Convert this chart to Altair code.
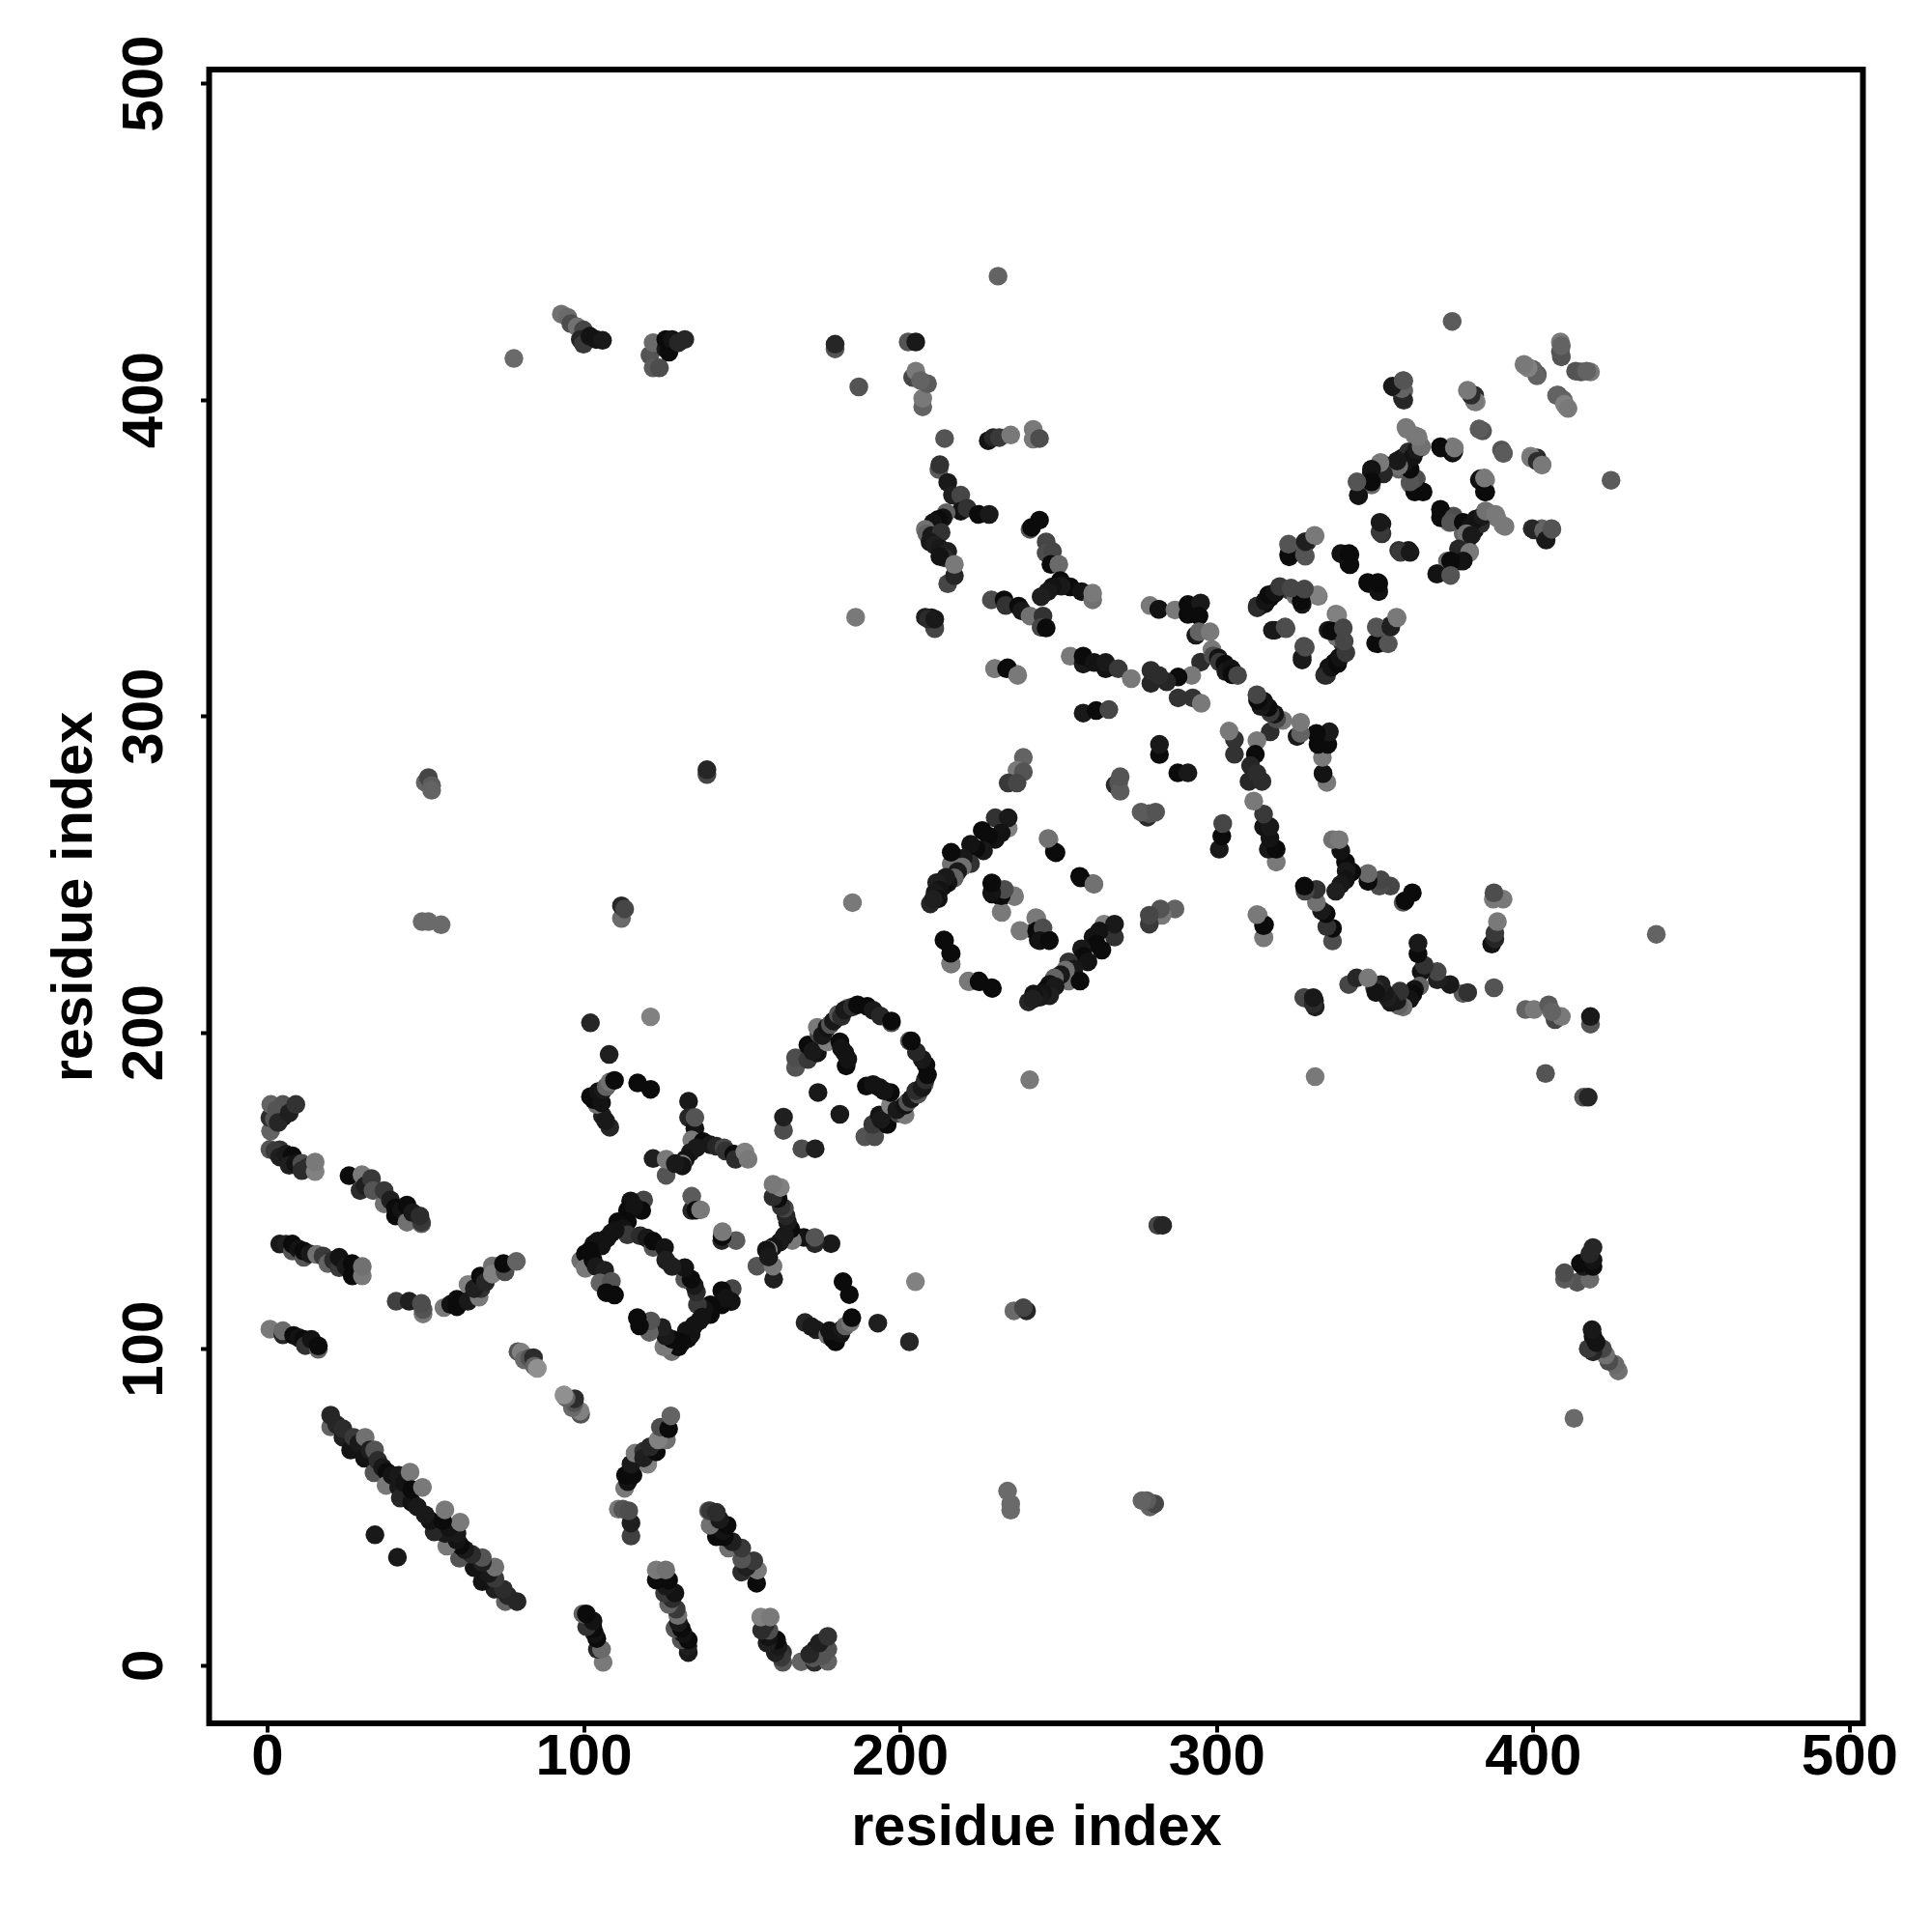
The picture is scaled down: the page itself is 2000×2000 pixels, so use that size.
import altair as alt
import pandas as pd

# (residue i, residue j, shade) with i < j; the contact map is symmetric
tri_a = [(1.1,168.8,70),(0.9,173,30),(1.2,177.2,70),(3,175.5,60),(5,173.2,15),(2.3,172.5,60),(3.5,171.5,25),(5,177.2,60),(7,174.5,20),(9.1,177.2,35)]
tri_b = [(0.9,163,60),(4,162.9,35),(2.5,162.5,40),(4,160.6,20),(6,161.5,15),(8,161,5),(7,158,20),(9,158.5,10),(11,158.6,55),(11,156.3,30),(13,157.5,30),(15.2,156,90),(15.2,159,85)]
tri_c = [(25.9,154.7,5),(30,155,85),(29.4,150,30),(31,151.5,20),(33,153.8,40),(33.5,150,60),(37,145.8,80),(37,150,40),(39,147,20),(40.6,144.5,5),(40.6,142,5),(42.5,144,10),
         (44.2,140,80),(44.2,145.4,5),(46,143,15),(48.8,139.5,70),(48.8,140,40),(48.3,142,30)]
tri_d = [(4,133.1,15),(6,133,20),(8,130.9,60),(8,133.1,5),(10,131.5,10),(11.6,128.9,60),(11.6,130.9,5),(13.5,130,15),(15.7,129.8,80),(17.7,129.3,40),(19.2,126.9,70),
         (21,128,30),(22.8,125.6,40),(22.8,128.9,10),(25,126,15),(26.9,123,5),(26.9,126.9,5),(30.1,123,85),(30.1,126,80)]
tri_e = [(40.8,115,45),(44.9,115,20),(49.3,111,85),(49.3,112.4,60),(48.8,114.3,55)]
tri_f = [(55.9,113,85),(58,114,10),(60,115.6,5),(60,113.3,5),(63.5,120.3,90),(63.5,115,15),(67,116.3,85),(67.6,119,35),(65.5,119,20),(67.4,123,5),(69,121,25),
         (71.2,126.2,80),(71.2,123.6,90),(75.2,124.3,55),(74.7,126.9,5),(78.8,127.6,70)]
tri_g = [(0.9,106.2,85),(5,104.4,25),(5,105.7,75),(8.4,104.2,5),(10,103.5,10),(11.6,103,5),(12.1,101,35),(14,103,10),(16.2,99.8,70),(16.2,100.9,5)]
tri_h = [(79.3,99.1,60),(80.3,98.9,90),(81.3,96.5,75),(83,97,60),(84.2,97.2,30),(84.5,94.5,70),(85.4,93.8,100)]
tri_j = [(20.1,75.3,70),(20.1,79,25),(22,76,25),(24,72,20),(24,74.7,30),(26.4,68,10),(27.4,72,40),(29,70,15),(30.8,65.4,10),(31,72,80),(32.5,68,20),(33.8,60.8,60),
         (34,68,60),(35,64.7,30),(36.5,62.5,15),(37.9,61,5),(37.6,56.8,85),(39.5,60,10),(41.6,56.2,15),(42.1,52.8,25),(41.6,60,15),(43.5,57.5,10),(45.2,61,85),(45.7,51.5,10),
         (45.7,55.5,5),(47.5,50,15),(49.1,56.2,85),(34.1,41.2,15)]
tri_l = [(102.2,203,25),(121.2,204.9,90),(108.1,193,20),(108.3,170,25),(106,173.6,20),(107,172,15),(104.2,177.2,80),(103.2,178.7,5),(102.2,179.7,5),
         (105.7,177.7,10),(104.7,181.3,10),(106.2,181.8,15),(107.2,182.8,70),(108.3,184.3,80),(109.8,184.8,5),(117.1,184,5),(121.2,182,5)]
tri_m = [(133.2,178.2,15),(133.2,173.1,25),(135.2,169.6,10),(135.2,173.1,60),(134.2,166,85),(137.8,165.5,5),(135.7,163.5,15),
         (133.7,162,15),(132.2,159.9,10),(131.2,158.4,90),(131.2,157.8,10),(122,160.1,20),(126.1,154.8,60),(126.1,159.9,85),(129,158.5,15),
         (140,164.5,15),(142,164,25),(144.4,163.5,50),(144.9,162.5,35),(147.5,161.5,5),(148,159.9,30),(151,162.2,90),(152,159.9,85)]
tri_n = [(167,188.9,60),(167,192,55),(170.9,191.4,40),(170.9,196,5),(173.9,193.5,10),(172.5,194,15),(177,197,90),(174.4,199.6,50),(173.9,201.6,85),(175.5,199,15),
         (177,201.6,10),(178,202.5,60),(179,203.6,15),(180.5,205.7,60),(181.5,205,30),(183.6,207.7,70),(182.5,207,15),(185,208,30),(186.6,208.7,5),(189.7,208.2,5),(191.5,207,15),(193.8,205.2,25),(197.3,203,60),
         (197.3,203.6,5),(181,197,5),(182.6,193.5,10),(181.5,195,10),(183,189.4,5),(183.5,191.5,10),(174.1,181,15),(163.2,169,55),(163.2,173.2,20)]
tri_o = [(119,147,50),(114.9,146.7,10),(118.4,143.7,5),(113.9,143.7,5),(116,145,10),(113.9,140.1,5),(110.8,140.1,5),(112.5,138,10),(113.9,136,40),(108.8,136.6,15),(110,137.5,10),
         (106.7,134.5,70),(105.7,132.5,10),(107.5,135,10),(103.2,133,10),(104.5,134,10),(99.1,127.9,80),(100.6,130,5),(102,131,5),(100.6,125.4,85),(103,128,5),(104,126,15),(106.7,124.8,20),
         (105.2,120.8,70),(108.8,121.3,60),(107.2,117.7,5),(109.8,117,5),(117.9,135.7,30),(120,135,15),(122,132,60),(122,134,5),(125.6,132,10),
         (128,126,20),(134.2,143.7,25),(134.2,148.2,65),(135.5,143.8,5),(137,143.9,85)]
tri_q = [(239,286.9,70),(237,282.8,85),(239,282.3,60),(234.2,278.8,40),(237,278.8,50),(230.1,267.8,35),(234.2,264.5,90),(234.2,267.8,15),
         (230.1,261,10),(232,263,10),(226,263.8,5),(228,262,5),(226.4,257.4,15),(224,258,5),(222.3,259.4,10),(222.3,253.3,35),(220,255,15),(216.2,253.3,80),(216.2,256.9,5),(219.7,252.3,80),
         (218.2,250.8,15),(217.2,248.8,70),(215.2,247.3,10),(213.6,246.2,5),(214.5,249,15),(211.6,247.3,20),(212.5,245,10),(211.1,244.2,15),(212.1,242.2,10),(209.6,240.6,25),(210.5,242,20),
         (229.2,247,5),(229.2,243.7,5),(231,245,15),(233,244.7,50),(232,242.7,10),(236.2,242.9,85),(232.2,237.9,90),(247.1,261,85),(249.3,256.8,0),
         (257.1,248.8,5),(261.3,246.8,80),(238.1,232,85),(243.2,236.1,85),(243.2,232,5),(245.2,233,55),(244.2,229,10),(247.2,229,5),
         (216.2,221.6,80),(214.1,229,5),(216.2,224.9,5),(221.8,216,85),(225,216,5),(229.2,213.9,5)]
tri_r = [(282,287.8,5),(282,291,15),(268,278.2,30),(269.1,278.8,60),(269.6,276.2,65),(269.6,280.8,60),(230,315,85),(234,315.2,5),(237,313.2,85),
         (208,331.2,20),(210,331,15),(210.9,328,55),(186,331.2,85),(185,241,85)]
tri_s = [(207.2,397.7,70),(214.1,387.7,60),(227.9,387,10),(229.5,388,25),(231.4,388,40),(235,388.8,85),(242.1,390.6,85),(242.1,387.5,85),(244.1,387.7,55),
         (212.3,377.9,65),(212.6,379.4,35),(215.1,373.8,15),(216.6,369.8,20),(219.2,369.8,50),(219.2,364.7,10),(221.2,365.7,35),(224.8,363.7,5),
         (228.2,363.7,15),(214.6,364.2,70),(213.6,362.6,10),(212.1,362.1,5),(210.5,361.1,10),(208,359,80),(208.5,357.6,70),(210,357,15),
         (213,358,35),(209.5,355,15),(211,354,20),(212.6,353,15),(215.1,352,20),(214,350,30),(212.6,350.4,10),(215.1,341.8,50),(217.2,344.3,25),(217.2,347.9,85)]
tri_t = [(241.1,359,60),(241.6,359.6,5),(244.1,361.9,5),(246.2,355,50),(246.2,351.5,55),(248.2,352,50),(247.7,347.9,5),(250.2,347.9,75),
         (250.7,342.8,5),(253.8,340.8,5),(251,341,15),(248.2,340.8,10),(246.7,339.3,15),(244.6,337.7,20),(257.4,339.3,10),(260.9,336.7,80),(260.9,338.8,85),
         (228.9,336.7,55),(232.9,336.7,5),(233.4,334.9,35),(237.5,334.7,5),(238.5,333.2,15),(241.1,331.6,80),(245.2,331.6,35),(244.6,328,50),
         (246.2,327.8,5),(211,327.6,50),(209,330.6,30),(211,330.6,15),(229.9,314.9,85),(233.7,314.9,5),(237.2,312.8,85)]
tri_u = [(253.8,318.9,85),(257.9,316.4,15),(257.9,318.9,5),(261.4,316.9,10),(265,314.9,10),(265,316.9,15),(269,314.9,40),(273.1,311.8,85),
         (279,334.9,85),(281.8,333.7,75),(281.8,333.7,10),(286.9,333.5,85),(291,332.1,5),(291,335.2,5),(295,335.7,15),(294.5,331.6,5),
         (293.5,325.5,15),(294.5,326.6,70),(298,326.6,85),(295,317,30),(298.6,321,85),(299,319,55),(300.6,318.4,10),(301,317,40),(302.7,316.4,5),(303,314,15),(304.7,314.9,10),(305,313,5),
         (306.7,312.8,50),(292.2,312.8,85),(287.9,312.3,5),(284.3,310.8,25),(279.3,310.3,25),(279.3,314.4,30),(281.8,312.8,30),(287.9,305.7,35),
         (292.5,305.7,35),(295.2,304,85),(257.9,300.9,15),(262,301.7,5),(266,302,50)]
tri_v = [(397.9,410.5,80),(400,409.5,75),(401.4,407.9,55),(407.5,401.3,70),(409.6,399.8,70),(410,398.5,90),(411.1,397.2,85),(415.2,408.7,60),
         (418.2,408.7,85),(409,413.5,60),(409,417,70),(356.1,403.9,30),(359.2,399.8,30),(359.2,402.8,70),(359.2,405.9,60),(379.5,402.8,85),
         (381.6,401.3,30),(382.1,399.3,90),(383.1,390.6,70),(384.1,390.1,60),(390.7,383,65),(399.4,381.5,85),(401.4,380.5,30),(402.9,379.3,85),
         (385.1,370.8,5),(383.1,374.6,5),(385.1,374.6,85)]
tri_w = [(344.9,369.8,15),(344.9,373.6,60),(349,373.9,10),(349,376.9,10),(352,380,80),(352.6,378,10),(355,379,25),(358.7,381.5,10),(359.7,379.5,5),
         (357.6,378,70),(360.7,383.5,30),(360.2,390.6,85),(362.7,388.6,85),(363.8,387.1,80),(364.8,385,85),(375,383.5,10),(370.9,384.7,5),
         (375.2,384.7,85),(362.7,370.8,5),(365.3,370.8,5),(361.2,373.4,85),(363.2,374.9,60),(371.1,362.7,5),(371.1,364.4,5),(375,362.7,55),
         (374,361.2,60),(378,361.2,5),(380,359.6,10),(382,362.2,10),(384.1,363.2,15),(379,357.6,80),(380.6,357.1,15),(385.1,364.7,80),
         (388.2,363.7,85),(391.2,359.9,85),(400.4,358.8,25),(403.4,358.6,70),(404.2,355.6,15),(406,359,60)]
tri_x = [(352.3,357.6,35),(352.3,360.7,15),(358.2,351.7,40),(361.2,351.7,15),(376.5,352.8,25),(380,351.7,85),(378,349,10),(373,349,75),(374,349,5),
         (369.6,344.9,10),(374,344.4,60),(323,350.3,10),(323,353.8,60),(328.1,350.5,60),(328.6,355,30),(331.2,356.9,85),(340.1,351,25),
         (342.2,347.8,5),(342.2,351,5),(348,341.9,5),(351.3,339.3,10),(351.3,341.9,5),(351,322.8,5),(354.3,322.8,60),(351,327.8,60),
         (355.1,328.1,20),(357.1,331,85)]
tri_y = [(312.9,334.2,30),(314,335,15),(315.4,335.5,10),(315.4,336.3,5),(316.9,337.3,5),(318.5,338.8,5),(320,340.6,80),(323,339.8,40),(325,338,80),(327.1,335.3,15),
         (327.1,337.3,5),(328.1,339.6,60),(332.2,337.8,85),(318.5,327.1,15),(322,327.6,55),(327.1,317.7,15),(328.1,321.7,55),(338.3,331.9,90),
         (336.3,326.8,5),(340.1,327.8,50),(334.8,312.9,30),(336.3,315.4,10),(338.3,316.5,5),(339,318.5,10),(340.9,320,40),(340.4,323.6,50)]
tri_z = [(207.2,400.4,85),(208.7,405,65),(204,407,50),(205,409,85),(206.5,406,70),(202.6,418.2,60),(205,418.2,15),(187,404,60),
         (93,427,80),(95,426,75),(96,424,55),(98,423,80),(100,422,50),(99,419,25),(100,417.5,40),(102,420,10),(104,419,10),(106,418.7,15),
         (121,414,60),(122,410,65),(124,410,55),(122,418,75),(126,416,15),(127,415,5),(126,419,5),(128,419,10),(130,418,25),(132,419,25),
         (179.5,416,60),(179.5,417.5,25),(78,413,75),(231,439,70),(374.5,424.7,65),
         (49,235,75),(51,235,75),(55,234,75),(50,279,70),(51,280.5,50),(52,278,65),(52,276.5,70),
         (112,236,75),(112,240,25),(113,239,50),(139,281.5,50),(139,283,25)]

clusters = [tri_a, tri_b, tri_c, tri_d, tri_e, tri_f, tri_g, tri_h, tri_j, tri_l, tri_m, tri_n, tri_o,
            tri_q, tri_r, tri_s, tri_t, tri_u, tri_v, tri_w, tri_x, tri_y, tri_z]

rows = []
for c in clusters:
    for i, j, s in c:
        rows.append({"x": i, "y": j, "shade": s})
        rows.append({"x": j, "y": i, "shade": s})
df = pd.DataFrame(rows)

ticks = [0, 100, 200, 300, 400, 500]
FONT = "Liberation Sans"

chart = alt.Chart(df).mark_circle(size=380, opacity=1).encode(
    x=alt.X("x:Q", scale=alt.Scale(domain=[-18.3, 504.3], nice=False, zero=False),
            axis=alt.Axis(values=ticks, title="residue index", grid=False, domain=False, tickColor="black",
                          tickWidth=4, tickSize=9, labelFont=FONT, labelFontWeight="bold", labelFontSize=60,
                          labelColor="black", titleFont=FONT, titleFontWeight="bold", titleFontSize=59.5,
                          titleColor="black", labelPadding=-4, titlePadding=14, labelOverlap=False, format="d")),
    y=alt.Y("y:Q", scale=alt.Scale(domain=[-18.4, 504.3], nice=False, zero=False),
            axis=alt.Axis(values=ticks, title="residue index", grid=False, domain=False, tickColor="black",
                          tickWidth=4, tickSize=9, labelFont=FONT, labelFontWeight="bold", labelFontSize=60,
                          labelColor="black", labelAngle=270, labelAlign="center", labelBaseline="bottom",
                          titleFont=FONT, titleFontWeight="bold", titleFontSize=59.5, titleColor="black",
                          labelPadding=27, titlePadding=13, labelOverlap=False, format="d")),
    color=alt.Color("shade:Q", legend=None, scale=alt.Scale(domain=[0, 100], range=["#000000", "#909090"])),
).properties(width=1712, height=1712, padding={"left": 38.5, "top": 28, "right": 5, "bottom": 5}).configure(
    background="white"
).configure_view(stroke="black", strokeWidth=6)

chart.save("out.html", embed_options={"renderer": "svg", "actions": False})
